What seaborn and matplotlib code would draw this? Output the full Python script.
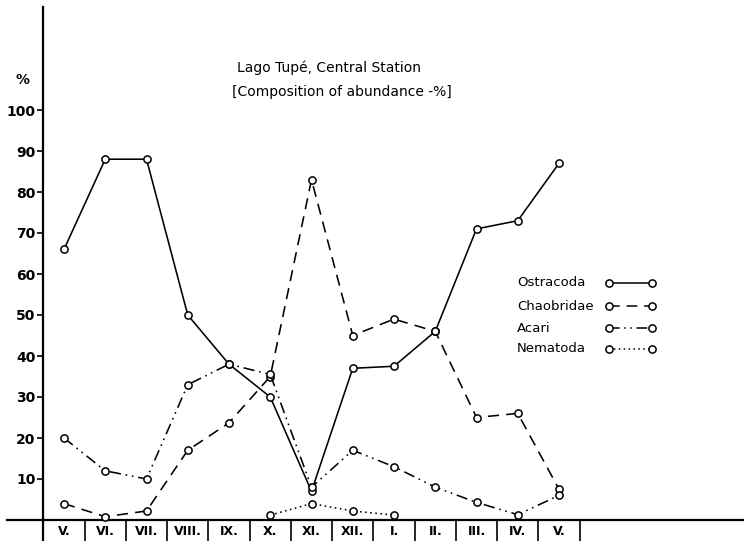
import numpy as np
import pandas as pd
import matplotlib
matplotlib.use("Agg")
import matplotlib.pyplot as plt
import seaborn as sns

# Sampling months (May through the following May)
months = ["V.", "VI.", "VII.", "VIII.", "IX.", "X.", "XI.", "XII.", "I.", "II.", "III.", "IV.", "V."]

# Composition of abundance (%) per taxon
ostracoda = [66, 88, 88, 50, 38, 30, 7, 37, 37.5, 46, 71, 73, 87]
chaobridae = [4, 0.8, 2.2, 17, 23.7, 35, 83, 45, 49, 46, 25, 26, 7.5]
acari = [20, 12, 10, 33, 38, 35.5, 8, 17, 13, 8, 4.3, 1.3, 6]
nematoda = [np.nan, np.nan, np.nan, np.nan, np.nan, 1.2, 4, 2.2, 1.2, np.nan, np.nan, np.nan, np.nan]

series_names = ["Ostracoda", "Chaobridae", "Acari", "Nematoda"]
series_values = [ostracoda, chaobridae, acari, nematoda]
line_styles = {
    "Ostracoda": "-",
    "Chaobridae": (0, (7, 4.5)),
    "Acari": (0, (7, 3, 1, 3, 1, 3)),
    "Nematoda": (0, (1, 2.2)),
}

W, H = 744, 541
sns.set_theme(style="white")
plt.rcParams["font.family"] = ["DejaVu Sans"]
plt.rcParams.update({
    "text.color": "black",
    "axes.labelcolor": "black",
    "xtick.color": "black",
    "ytick.color": "black",
})

fig = plt.figure(figsize=(W / 100, H / 100), dpi=100)
ax = fig.add_axes([0, 0, 1, 1])

x_pos = np.arange(len(months))
frames = []
for name, vals in zip(series_names, series_values):
    frames.append(pd.DataFrame({"pos": x_pos, "value": vals, "taxon": name}))
df = pd.concat(frames, ignore_index=True)

marker_kw = dict(marker="o", markersize=5.2, markerfacecolor="white",
                 markeredgecolor="black", markeredgewidth=1.1)
for name in series_names:
    sub = df[(df["taxon"] == name) & df["value"].notna()]
    sns.lineplot(data=sub, x="pos", y="value", ax=ax, color="black",
                 linewidth=1.15, linestyle=line_styles[name], zorder=3,
                 estimator=None, sort=False, **marker_kw)

# Axis geometry
x0_px, step_px = 64, 41.25
y0_px, unit_px = 520, 4.1
ax.set_xlim(-x0_px / step_px, (W - x0_px) / step_px)
ax.set_ylim(-(H - y0_px) / unit_px, y0_px / unit_px)

for s in ["top", "right"]:
    ax.spines[s].set_visible(False)
ax.spines["left"].set_position(("data", -0.5))
ax.spines["left"].set_bounds(-(H - y0_px) / unit_px, (y0_px - 7) / unit_px)
ax.spines["bottom"].set_position(("data", 0))
ax.spines["bottom"].set_bounds((7 - x0_px) / step_px, (W - x0_px) / step_px)
for s in ["left", "bottom"]:
    ax.spines[s].set_color("black")
    ax.spines[s].set_linewidth(1.6)

ax.set_yticks(np.arange(10, 101, 10))
ax.tick_params(axis="y", left=True, direction="out", length=4, width=1.2,
               pad=1.5, labelsize=10, colors="black")
for lab in ax.get_yticklabels():
    lab.set_fontweight("bold")

ax.set_xticks(x_pos)
ax.set_xticklabels(months, fontsize=9, fontweight="bold")
ax.set_xticks(np.arange(-0.5, len(months)), minor=True)
ax.tick_params(axis="x", which="both", bottom=True, colors="black")
ax.tick_params(axis="x", which="major", length=0, pad=3.5)
ax.tick_params(axis="x", which="minor", direction="out", length=16, width=1.2)
ax.set_xlabel("")
ax.set_ylabel("")


def px(x, y):
    return x / W, 1 - y / H


ax.text(*px(23, 80), "%", transform=ax.transAxes, ha="center", va="center",
        fontsize=10, fontweight="bold")
ax.text(*px(237, 68), "Lago Tupé, Central Station", transform=ax.transAxes,
        ha="left", va="center", fontsize=10)
ax.text(*px(232, 92), "[Composition of abundance -%]", transform=ax.transAxes,
        ha="left", va="center", fontsize=10)

# Legend: names on the left, line samples on the right
legend_rows = [283, 306, 328, 349]
for name, ry in zip(series_names, legend_rows):
    ax.text(*px(517, ry), name, transform=ax.transAxes, ha="left",
            va="center", fontsize=9.5)
    lx0, ly = px(609, ry)
    lx1, _ = px(652, ry)
    ax.plot([lx0, lx1], [ly, ly], transform=ax.transAxes, color="black",
            linewidth=1.1, linestyle=line_styles[name], clip_on=False,
            **marker_kw)

fig.savefig("out.png", dpi=100, facecolor="white")
